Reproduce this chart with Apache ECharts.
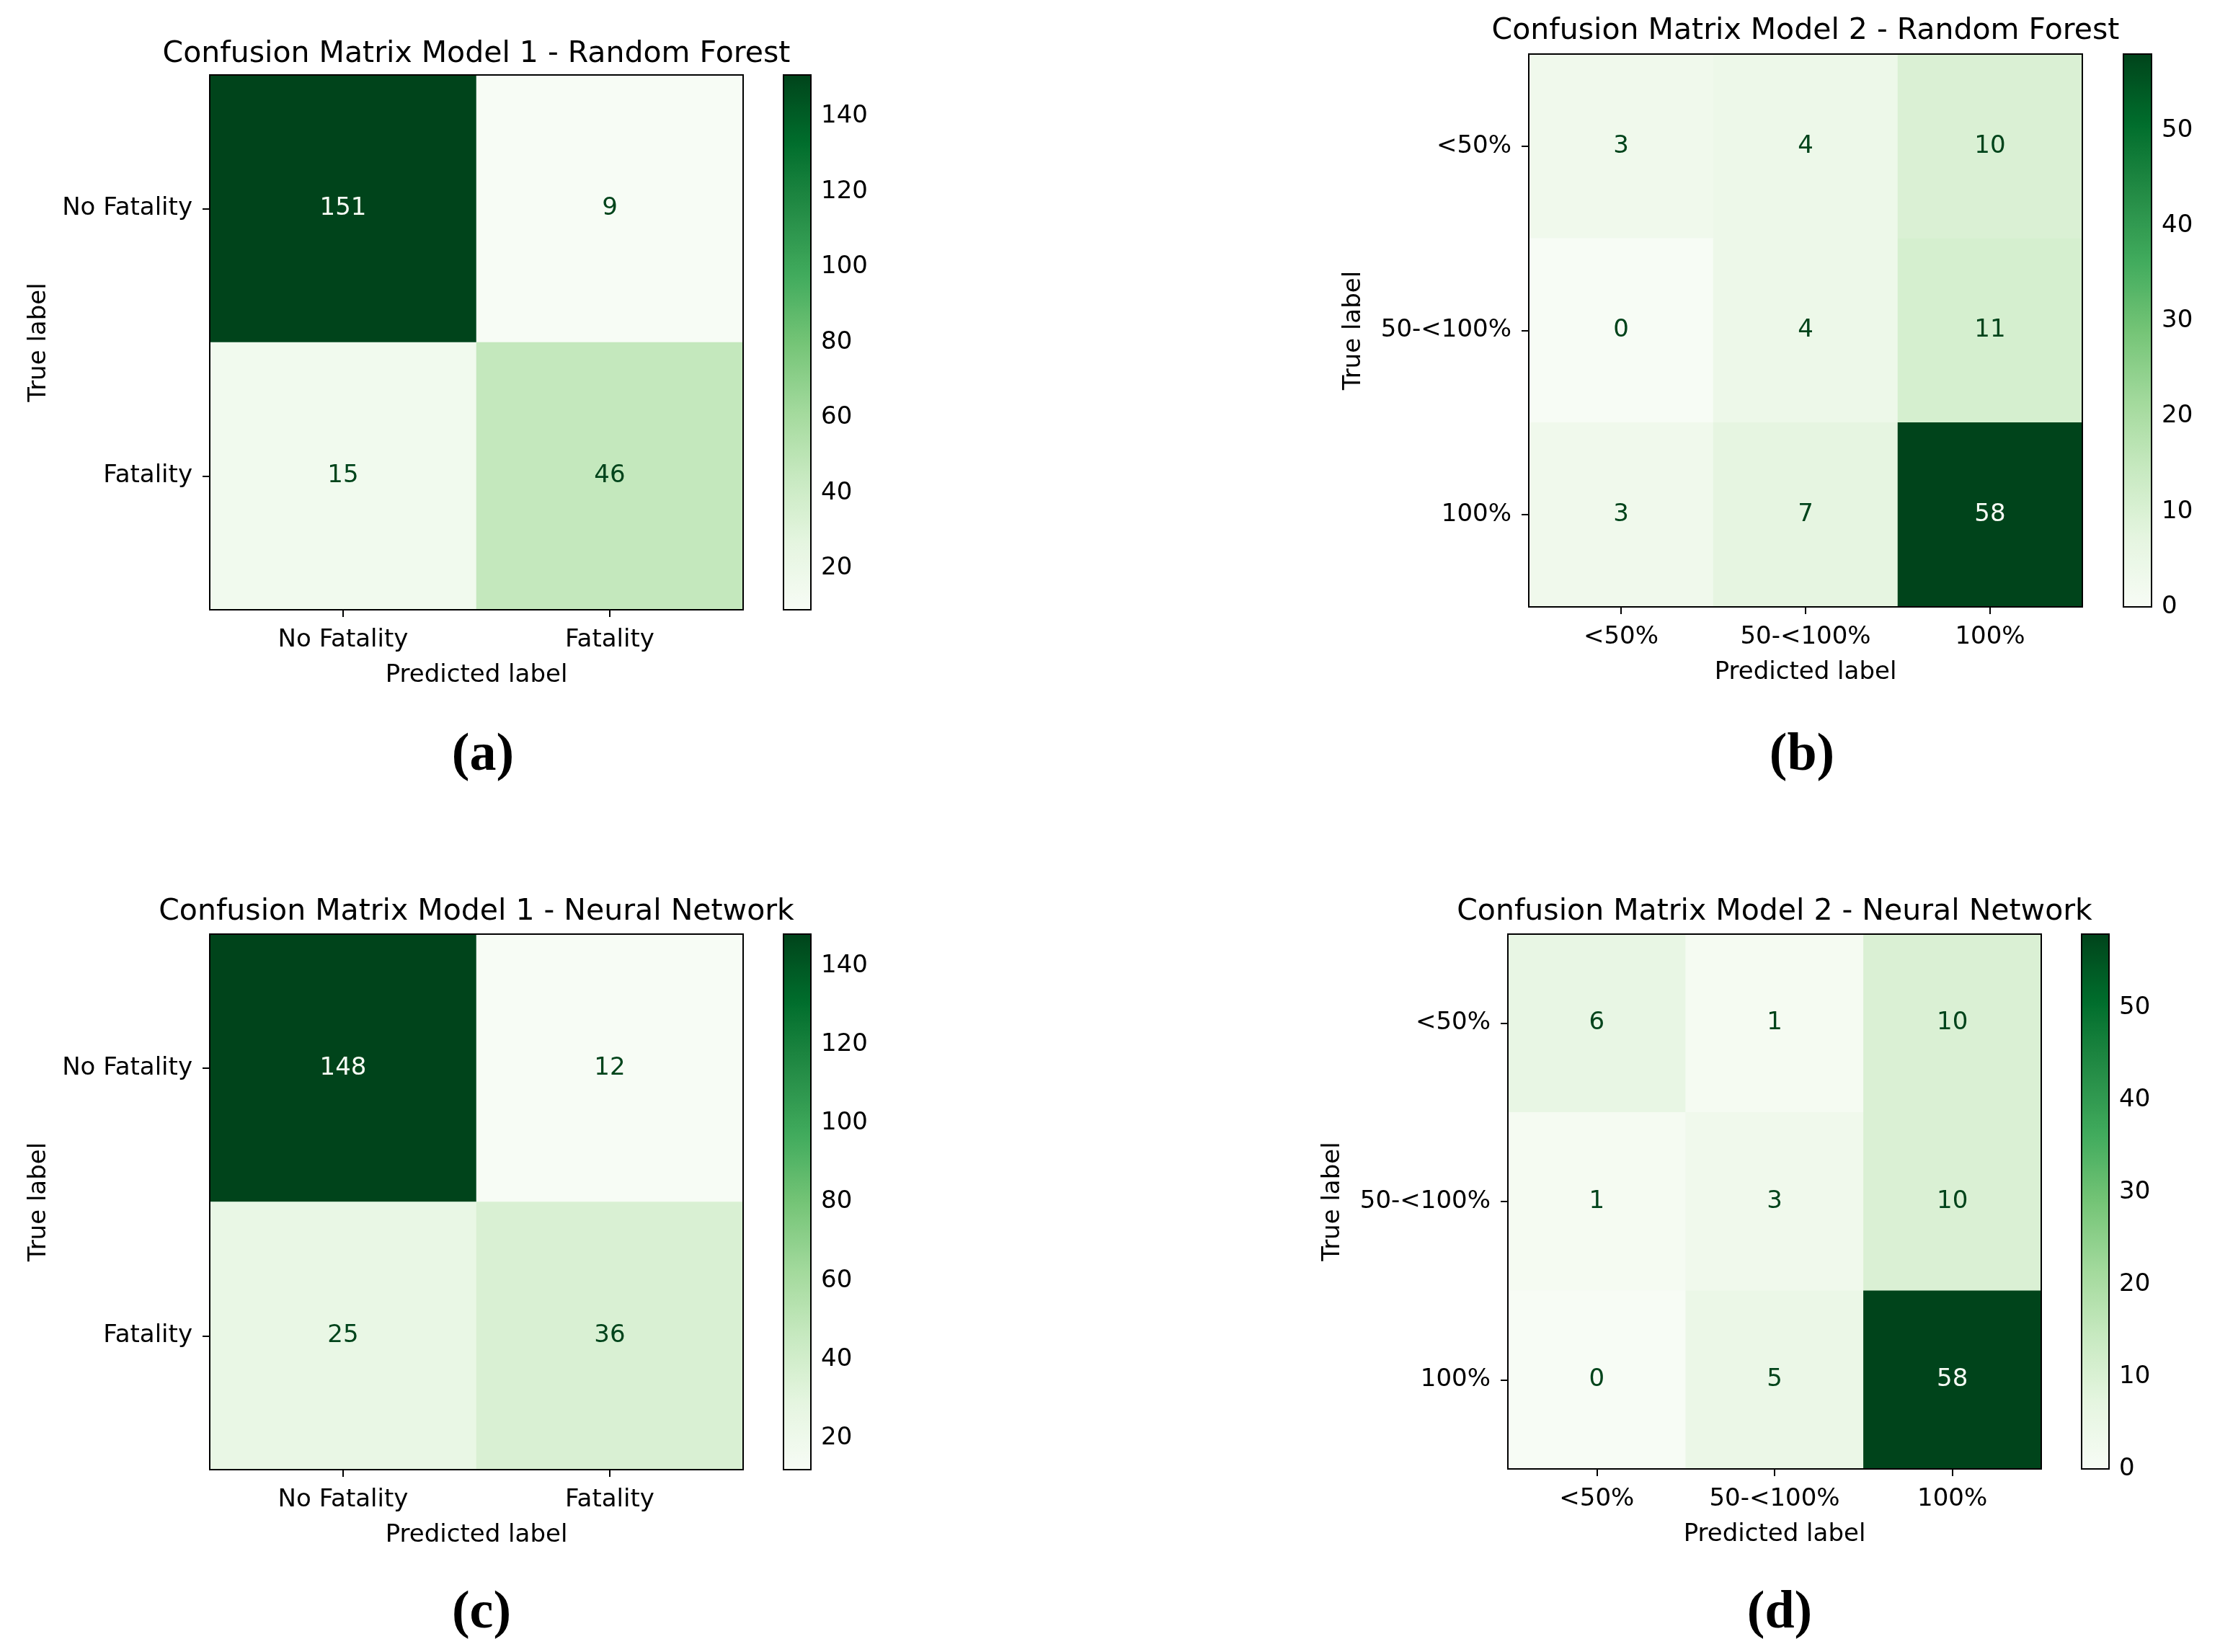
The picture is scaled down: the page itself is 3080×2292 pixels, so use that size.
<!DOCTYPE html>
<html>
<head>
<meta charset="utf-8">
<script src="https://cdn.jsdelivr.net/npm/echarts@6/dist/echarts.min.js"></script>
<style>
  html, body { margin: 0; padding: 0; background: #fff; }
  #chart { width: 3080px; height: 2292px; }
</style>
</head>
<body>
<div id="chart"></div>
<script>
// matplotlib "Greens" colormap stops
const greens = ['#f7fcf5', '#e5f5e0', '#c7e9c0', '#a1d99b', '#74c476', '#41ab5d', '#238b45', '#006d2c', '#00441b'];

const binaryLabels = ['No Fatality', 'Fatality'];
const rangeLabels = ['<50%', '50-<100%', '100%'];

const titles = [
  'Confusion Matrix Model 1 - Random Forest',
  'Confusion Matrix Model 2 - Random Forest',
  'Confusion Matrix Model 1 - Neural Network',
  'Confusion Matrix Model 2 - Neural Network'
];
const panelTags = ['(a)', '(b)', '(c)', '(d)'];

// rows = true label, cols = predicted label
const matrixA = [[151, 9], [15, 46]];
const matrixB = [[3, 4, 10], [0, 4, 11], [3, 7, 58]];
const matrixC = [[148, 12], [25, 36]];
const matrixD = [[6, 1, 10], [1, 3, 10], [0, 5, 58]];

const cbarTicksBinary = [20, 40, 60, 80, 100, 120, 140];
const cbarTicksRange = [0, 10, 20, 30, 40, 50];

const FONT = 'DejaVu Sans';
const FS = 34;

// where each panel sits on the page (px)
const layouts = [
  { grid: [291, 104, 740, 742], cbar: [1087, 38], title: [661, 75], tag: [670, 1049], yName: 220 },
  { grid: [2121, 75, 768, 767], cbar: [2946, 39], title: [2505, 43], tag: [2500, 1049], yName: 226 },
  { grid: [291, 1296, 740, 743], cbar: [1087, 38], title: [661, 1265], tag: [668, 2239], yName: 220 },
  { grid: [2092, 1296, 740, 742], cbar: [2888, 38], title: [2462, 1265], tag: [2469, 2239], yName: 226 }
];

const panels = [
  { matrix: matrixA, labels: binaryLabels, ticks: cbarTicksBinary },
  { matrix: matrixB, labels: rangeLabels, ticks: cbarTicksRange },
  { matrix: matrixC, labels: binaryLabels, ticks: cbarTicksBinary },
  { matrix: matrixD, labels: rangeLabels, ticks: cbarTicksRange }
];

const grid = [], xAxis = [], yAxis = [], series = [], visualMap = [], graphic = [];

panels.forEach((p, i) => {
  const lay = layouts[i];
  const [gl, gt, gw, gh] = lay.grid;
  const flat = p.matrix.flat();
  const vmin = Math.min(...flat), vmax = Math.max(...flat);
  const thresh = (vmin + vmax) / 2;

  // heatmap grid
  grid.push({ left: gl, top: gt, width: gw, height: gh, show: true,
    borderColor: '#000', borderWidth: 2, backgroundColor: 'transparent', z: 10 });
  // colorbar grid (outline + tick axis)
  grid.push({ left: lay.cbar[0], top: gt, width: lay.cbar[1], height: gh, show: true,
    borderColor: '#000', borderWidth: 2, backgroundColor: 'transparent', z: 10 });

  const gi = grid.length - 2;
  const tickStyle = { show: true, length: 10, lineStyle: { color: '#000', width: 2 } };
  const labelStyle = { color: '#000', fontFamily: FONT, fontSize: FS };

  xAxis.push({
    type: 'category', gridIndex: gi, data: p.labels,
    axisLine: { show: false },
    axisTick: Object.assign({ alignWithLabel: true, interval: 0 }, tickStyle),
    axisLabel: Object.assign({ margin: 25, interval: 0 }, labelStyle),
    splitLine: { show: false },
    name: 'Predicted label', nameLocation: 'middle', nameGap: 74,
    nameTextStyle: labelStyle
  });
  yAxis.push({
    type: 'category', gridIndex: gi, data: p.labels, inverse: true,
    axisLine: { show: false },
    axisTick: Object.assign({ alignWithLabel: true, interval: 0 }, tickStyle),
    axisLabel: Object.assign({ margin: 24, interval: 0 }, labelStyle),
    splitLine: { show: false },
    name: 'True label', nameLocation: 'middle', nameRotate: 90, nameGap: lay.yName,
    nameTextStyle: labelStyle
  });

  xAxis.push({ type: 'value', gridIndex: gi + 1, show: false, min: 0, max: 1 });
  yAxis.push({
    type: 'value', gridIndex: gi + 1, position: 'right', min: vmin, max: vmax,
    axisLine: { show: false },
    axisTick: Object.assign({ customValues: p.ticks }, tickStyle),
    axisLabel: Object.assign({ customValues: p.ticks, margin: 14 }, labelStyle),
    splitLine: { show: false }
  });

  const data = [];
  p.matrix.forEach((row, r) => {
    row.forEach((v, c) => {
      data.push({ value: [c, r, v], label: { color: v > thresh ? greens[0] : greens[8] } });
    });
  });

  series.push({
    type: 'heatmap', xAxisIndex: gi, yAxisIndex: gi, data: data,
    label: { show: true, formatter: (d) => String(d.value[2]), fontFamily: FONT, fontSize: FS },
    emphasis: { disabled: true },
    itemStyle: { borderWidth: 0 }
  });

  visualMap.push({
    type: 'continuous', seriesIndex: i, min: vmin, max: vmax, dimension: 2,
    inRange: { color: greens },
    calculable: false, hoverLink: false, show: true,
    orient: 'vertical', left: lay.cbar[0], top: gt, padding: 0,
    itemWidth: lay.cbar[1], itemHeight: gh, text: null
  });

  graphic.push({
    type: 'text', x: lay.title[0], y: lay.title[1], silent: true,
    style: { text: titles[i], fill: '#000', font: '41px "DejaVu Sans"', align: 'center', verticalAlign: 'middle' }
  });
  graphic.push({
    type: 'text', x: lay.tag[0], y: lay.tag[1], silent: true,
    style: { text: panelTags[i], fill: '#000', font: '600 74px "Liberation Serif"', align: 'center', verticalAlign: 'middle' }
  });
});

const chart = echarts.init(document.getElementById('chart'));
chart.setOption({
  backgroundColor: '#fff',
  animation: false,
  grid, xAxis, yAxis, series, visualMap, graphic
});
</script>
</body>
</html>
